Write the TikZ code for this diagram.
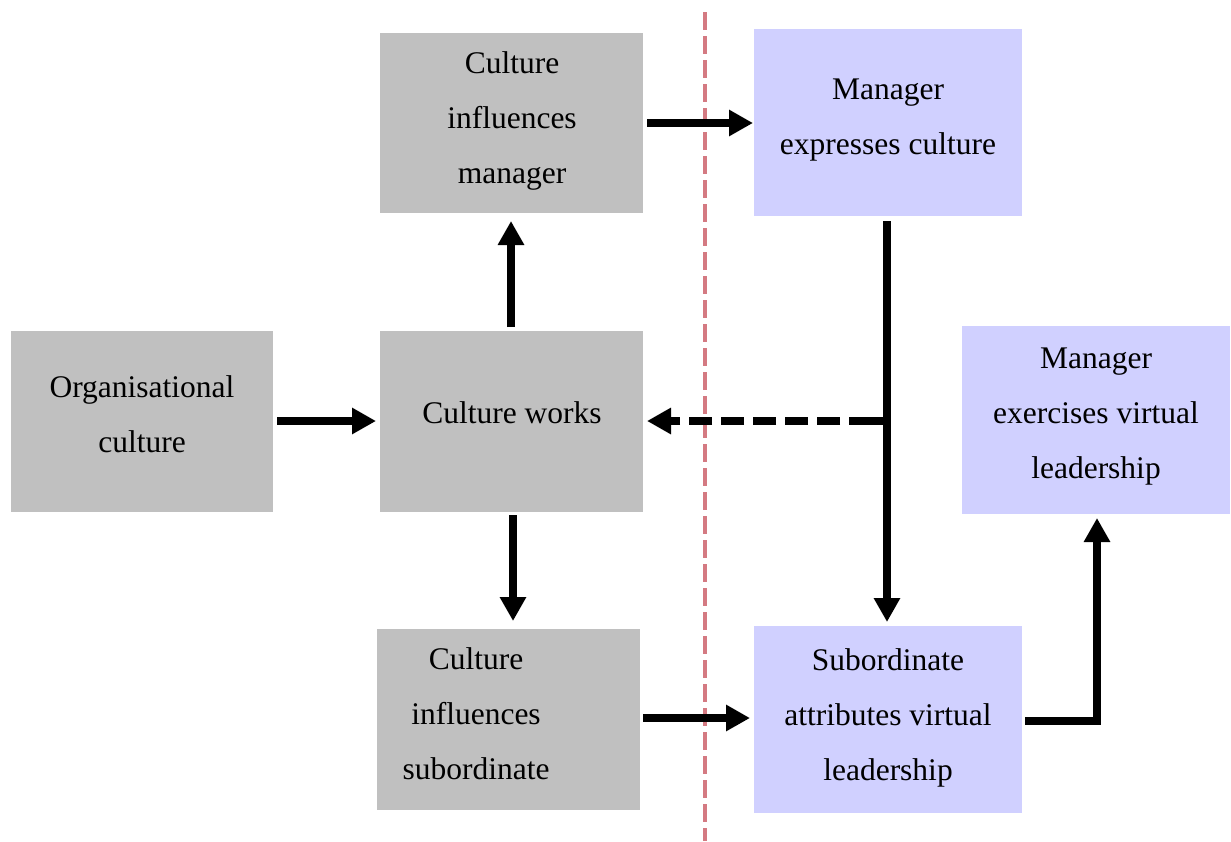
\documentclass[tikz,border=0pt]{standalone}
\usepackage{fontspec}
\setmainfont{Liberation Serif}
\usetikzlibrary{arrows.meta}
\definecolor{boxgray}{HTML}{C0C0C0}
\definecolor{boxblue}{HTML}{D0D0FF}
\definecolor{divider}{HTML}{D47A82}
\begin{document}
\begin{tikzpicture}[x=1pt,y=-1pt,
  every node/.style={inner sep=0pt, outer sep=0pt},
  txt/.style={font=\fontsize{31.5}{55}\selectfont, align=center},
  graybox/.style={fill=boxgray},
  bluebox/.style={fill=boxblue},
  flow/.style={line width=7.5pt, -{Triangle[length=24pt,width=25pt]}},
  feedback/.style={line width=7.5pt, dash pattern=on 23pt off 9pt, -{Triangle[length=24pt,width=25pt]}},
  link/.style={line width=7.5pt}]
\useasboundingbox (0,0) rectangle (1231,841);

% boxes
\fill[graybox] (11,331) rectangle (273,512);
\fill[graybox] (380,331) rectangle (643,512);
\fill[graybox] (380,33) rectangle (643,213);
\fill[graybox] (377,629) rectangle (640,810);
\fill[bluebox] (754,29) rectangle (1022,216);
\fill[bluebox] (962,326) rectangle (1230,514);
\fill[bluebox] (754,626) rectangle (1022,813);

% labels
\node[txt] (org) at (142,414) {Organisational\\culture};
\node[txt] (works) at (512,413) {Culture works};
\node[txt] (inflm) at (512,121) {Culture\\influences\\manager};
\node[txt] (infls) at (476,714) {Culture\\influences\\subordinate};
\node[txt] (expr) at (888,120) {Manager\\expresses culture};
\node[txt] (exer) at (1096,417) {Manager\\exercises virtual\\leadership};
\node[txt] (attr) at (888,718) {Subordinate\\attributes virtual\\leadership};

% divider
\draw[divider, line width=4.5pt, dash pattern=on 18pt off 6pt] (705,12) -- (705,841);

% connector end points
\coordinate (orgE) at (277,421);
\coordinate (worksW) at (376,421);
\coordinate (worksN) at (511,327);
\coordinate (inflmS) at (511,221);
\coordinate (worksS) at (513,515);
\coordinate (inflsN) at (513,621);
\coordinate (inflmE) at (647,123);
\coordinate (exprW) at (753,123);
\coordinate (inflsE) at (643,718);
\coordinate (attrW) at (750,718);
\coordinate (exprS) at (887,221);
\coordinate (attrN) at (887,622);
\coordinate (branch) at (887,421);
\coordinate (worksE) at (647,421);
\coordinate (attrE) at (1025,721);
\coordinate (bend) at (1097,721);
\coordinate (exerS) at (1097,518);

% connectors
\draw[flow] (orgE) -- (worksW);
\draw[flow] (worksN) -- (inflmS);
\draw[flow] (worksS) -- (inflsN);
\draw[flow] (inflmE) -- (exprW);
\draw[flow] (inflsE) -- (attrW);
\draw[flow] (exprS) -- (attrN);
\draw[link] (branch) -- ++(-15,0);
\draw[feedback] (branch) ++(-15,0) -- (worksE);
\draw[flow, line join=miter] (attrE) -- (bend) -- (exerS);
\end{tikzpicture}
\end{document}
